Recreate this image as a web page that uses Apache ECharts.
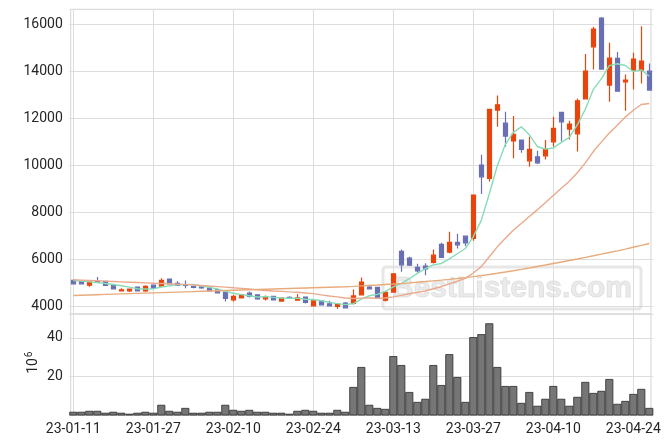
<!DOCTYPE html>
<html><head><meta charset="utf-8">
<script src="https://cdn.jsdelivr.net/npm/echarts@6/dist/echarts.min.js"></script>
<style>html,body{margin:0;padding:0;background:#fff}#c{width:671px;height:444px}</style>
</head><body><div id="c"></div>
<script>
const dates = ['23-01-11','23-01-12','23-01-13','23-01-16','23-01-17','23-01-18','23-01-19','23-01-20','23-01-25','23-01-26',
'23-01-27','23-01-30','23-01-31','23-02-01','23-02-02','23-02-03','23-02-06','23-02-07','23-02-08','23-02-09',
'23-02-10','23-02-13','23-02-14','23-02-15','23-02-16','23-02-17','23-02-20','23-02-21','23-02-22','23-02-23',
'23-02-24','23-02-27','23-02-28','23-03-02','23-03-03','23-03-06','23-03-07','23-03-08','23-03-09','23-03-10',
'23-03-13','23-03-14','23-03-15','23-03-16','23-03-17','23-03-20','23-03-21','23-03-22','23-03-23','23-03-24',
'23-03-27','23-03-28','23-03-29','23-03-30','23-03-31','23-04-03','23-04-04','23-04-05','23-04-06','23-04-07',
'23-04-10','23-04-11','23-04-12','23-04-13','23-04-14','23-04-17','23-04-18','23-04-19','23-04-20','23-04-21',
'23-04-24','23-04-25','23-04-26'];
// [open, close, low, high]
const ohlc = [
[5089,4947,4919,5132],[5046,4947,4933,5075],[4890,5018,4819,5032],[5046,5004,4990,5231],[5046,4876,4862,5060],
[4890,4734,4706,4904],[4649,4691,4620,4762],[4649,4720,4592,4734],[4805,4649,4620,4819],[4649,4833,4592,4890],
[4890,4762,4748,4919],[4848,5089,4833,5188],[5146,4947,4933,5174],[4961,4876,4848,5060],[4904,4876,4762,5089],
[4833,4791,4762,4862],[4819,4777,4734,4862],[4762,4649,4620,4848],[4691,4564,4549,4734],[4592,4322,4194,4606],
[4265,4407,4194,4478],[4351,4478,4336,4507],[4549,4407,4365,4620],[4478,4308,4265,4493],[4308,4393,4237,4450],
[4407,4265,4237,4436],[4209,4336,4180,4351],[4365,4336,4308,4421],[4251,4351,4223,4507],[4379,4152,4109,4393],
[4010,4223,3996,4237],[4223,4052,4024,4251],[4095,4010,3996,4223],[3981,4081,3882,4109],[4123,3925,3910,4166],
[4109,4430,4067,4706],[4478,5018,4464,5217],[4805,4734,4706,4904],[4791,4365,4308,4819],[4251,4578,4194,4635],
[4592,5373,4578,5401],[6324,5756,5458,6410],[6040,5742,5700,6097],[5643,5501,5430,5799],[5699,5586,5316,5827],
[5856,6168,5813,6410],[6622,6069,6055,6693],[6296,6708,6253,7162],[6708,6608,6452,7077],[6977,6693,6551,6991],
[6878,8724,6779,8738],[10002,9505,8767,10442],[9434,12373,9306,12388],[12345,12572,11635,12970],[11791,11237,10783,12274],
[11031,11315,10293,12096],[11067,10669,10527,11095],[10187,10669,9931,11209],[10357,10101,10045,10613],[10400,10669,10243,11067],
[10996,11564,10783,12061],[12246,11848,11024,12246],[11536,11749,11095,11891],[11337,12743,10584,12842],[12828,14006,12799,14731],
[15043,15796,14078,15895],[16264,14092,14063,16307],[13410,14560,12700,15213],[14546,13154,13154,14816],[13552,13623,12316,13864],
[14049,14518,13225,14787],[14049,14433,13481,15923],[14006,13197,13169,14333]];
// volume in millions
const volumes = [1.9,1.9,2.4,2.4,1.4,1.9,1.4,0.9,1.4,1.9,
1.4,5.5,2.4,1.9,3.9,1.4,1.4,1.9,1.9,5.5,
2.9,2.4,2.9,1.9,1.9,1.4,1.4,0.9,2.4,2.9,
2.4,1.4,1.4,2.9,1.9,14.7,25.0,5.5,3.9,3.4,
30.6,26.0,12.1,7.0,8.6,26.0,15.7,31.6,19.8,7.0,
40.4,41.9,47.5,25.0,15.2,15.2,6.5,12.1,5.0,8.6,
15.2,8.6,5.0,9.6,17.3,11.6,12.7,18.8,6.0,7.5,
11.1,13.7,3.9];
const ma5 = [5080,5060,5030,4995,4958,4916,4865,4805,4734,4725,4731,4811,4856,4901,4910,4916,4853,4794,4731,4621,
4544,4484,4436,4384,4399,4370,4342,4328,4336,4288,4280,4223,4158,4104,4058,4100,4293,4438,4494,4625,
4814,4961,5163,5390,5592,5751,5813,6006,6228,6449,6960,7648,8781,9973,10882,11399,11632,11291,10797,10683,
10734,10970,11186,11715,12382,13228,13677,14239,14322,14245,13989,14058,13785];
const ma20 = [5120,5105,5090,5075,5060,5045,5030,5015,5000,4985,4970,4958,4946,4934,4920,4900,4875,4850,4827,4804,
4777,4753,4723,4688,4664,4640,4622,4603,4588,4554,4527,4476,4429,4389,4341,4323,4335,4340,4330,4342,
4391,4455,4521,4581,4641,4736,4823,4941,5054,5181,5406,5679,6097,6521,6887,7231,7513,7810,8097,8402,
8711,9016,9316,9678,10099,10581,10982,11374,11702,12048,12338,12584,12625];
const ma120 = [4450,4461,4472,4483,4494,4505,4516,4527,4538,4549,4560,4571,4582,4593,4604,4615,4626,4637,4648,4659,
4670,4681,4692,4703,4714,4725,4736,4747,4758,4769,4780,4791,4802,4813,4824,4838,4856,4875,4895,4916,
4938,4962,4988,5015,5043,5072,5102,5134,5170,5208,5250,5296,5345,5396,5448,5502,5560,5620,5682,5745,
5810,5875,5940,6005,6072,6140,6210,6280,6350,6425,6505,6585,6665];
const tickDates = ['23-01-11','23-01-27','23-02-10','23-02-24','23-03-13','23-03-27','23-04-10','23-04-24'];
const priceTicks = [4000,6000,8000,10000,12000,14000,16000];
const volumeTicks = [20,40];

const FL = 70.7, FR = 651, T0 = 9.3, B0 = 314, B1 = 415.5;
const N = dates.length;
const step = 8.0;
const gLeft = 73.3 - step/2;
const gWidth = step * N;
const gRight = 671 - gLeft - gWidth;
const UP = '#e8440e', DOWN = '#6a6fb4';
const GRID = '#dddddd';
const TXT = '#262626';
const FONT = 'Roboto';

const vLines = tickDates.map(d => ({xAxis: d}));
const chart = echarts.init(document.getElementById('c'), null, {renderer: 'canvas'});
chart.setOption({
  animation: false,
  backgroundColor: '#fff',
  grid: [
    {left: gLeft, right: gRight, top: T0, height: B0 - T0},
    {left: gLeft, right: gRight, top: B0, height: B1 - B0}
  ],
  xAxis: [
    {type: 'category', gridIndex: 0, data: dates, boundaryGap: true,
     axisLine: {show: false}, axisTick: {show: false}, axisLabel: {show: false}, splitLine: {show: false}},
    {type: 'category', gridIndex: 1, data: dates, boundaryGap: true,
     axisLine: {show: false}, axisTick: {show: false}, splitLine: {show: false},
     axisLabel: {interval: (i, v) => tickDates.indexOf(v) >= 0, color: TXT, fontFamily: FONT, fontSize: 14, margin: 6.5}}
  ],
  yAxis: [
    {type: 'value', gridIndex: 0, min: 3660, max: 16640, splitNumber: 6, scale: true,
     axisLine: {show: false}, axisTick: {show: false},
     splitLine: {lineStyle: {color: GRID, width: 1}},
     axisLabel: {color: TXT, fontFamily: FONT, fontSize: 14, margin: 6.5,
       showMinLabel: false, showMaxLabel: false,
       formatter: v => priceTicks.indexOf(v) >= 0 ? String(v) : ''}},
    {type: 'value', gridIndex: 1, min: 0, max: 52.3, interval: 20,
     axisLine: {show: false}, axisTick: {show: false},
     splitLine: {lineStyle: {color: GRID, width: 1}},
     axisLabel: {color: TXT, fontFamily: FONT, fontSize: 14, margin: 6.5,
       showMinLabel: false, showMaxLabel: false,
       formatter: v => volumeTicks.indexOf(v) >= 0 ? String(v) : ''}}
  ],
  series: [
    {type: 'line', xAxisIndex: 0, yAxisIndex: 0, data: [], silent: true,
     markLine: {z: 1, silent: true, symbol: 'none', animation: false, label: {show: false},
       lineStyle: {color: GRID, width: 1, type: 'solid'}, data: vLines}},
    {type: 'line', xAxisIndex: 1, yAxisIndex: 1, data: [], silent: true,
     markLine: {z: 1, silent: true, symbol: 'none', animation: false, label: {show: false},
       lineStyle: {color: GRID, width: 1, type: 'solid'}, data: vLines}},
    {type: 'candlestick', xAxisIndex: 0, yAxisIndex: 0, data: ohlc, barWidth: 5, z: 3,
     itemStyle: {color: UP, color0: DOWN, borderColor: UP, borderColor0: DOWN, borderWidth: 1.2}},
    {type: 'line', xAxisIndex: 0, yAxisIndex: 0, data: ma5, symbol: 'none', z: 4,
     lineStyle: {color: '#86dcb6', width: 1.4}},
    {type: 'line', xAxisIndex: 0, yAxisIndex: 0, data: ma20, symbol: 'none', z: 4,
     lineStyle: {color: '#eba98c', width: 1.4}},
    {type: 'line', xAxisIndex: 0, yAxisIndex: 0, data: ma120, symbol: 'none', z: 4,
     lineStyle: {color: '#e8ab7c', width: 1.4}},
    {type: 'bar', xAxisIndex: 1, yAxisIndex: 1, data: volumes, barCategoryGap: '0%', z: 3,
     itemStyle: {color: '#767676', borderColor: '#2a2a2a', borderWidth: 0.8}}
  ],
  graphic: {elements: [
    {type: 'rect', z: 0, silent: true, shape: {x: FL, y: T0, width: FR - FL, height: B0 - T0},
     style: {fill: 'none', stroke: '#d4d4d4', lineWidth: 1}},
    {type: 'rect', z: 0, silent: true, shape: {x: FL, y: B0, width: FR - FL, height: B1 - B0},
     style: {fill: 'none', stroke: '#d4d4d4', lineWidth: 1}},
    {type: 'rect', z: 1, silent: true, shape: {x: 383, y: 267, width: 258, height: 42, r: 3},
     style: {fill: 'none', stroke: 'rgba(175,175,175,0.3)', lineWidth: 3}},
    {type: 'text', z: 1, silent: true, x: 512, y: 289,
     style: {text: 'BestListens.com', font: 'bold 30px "Liberation Sans"', fill: 'rgba(215,215,215,0.5)',
       stroke: 'rgba(170,170,170,0.3)', lineWidth: 1, align: 'center', verticalAlign: 'middle'}},
    {type: 'text', silent: true, x: 33, y: 366, rotation: Math.PI / 2,
     style: {text: '10', font: '14px Roboto', fill: TXT, align: 'center', verticalAlign: 'middle'}},
    {type: 'text', silent: true, x: 29, y: 354.5, rotation: Math.PI / 2,
     style: {text: '6', font: '10px Roboto', fill: TXT, align: 'center', verticalAlign: 'middle'}}
  ]}
});
</script></body></html>
